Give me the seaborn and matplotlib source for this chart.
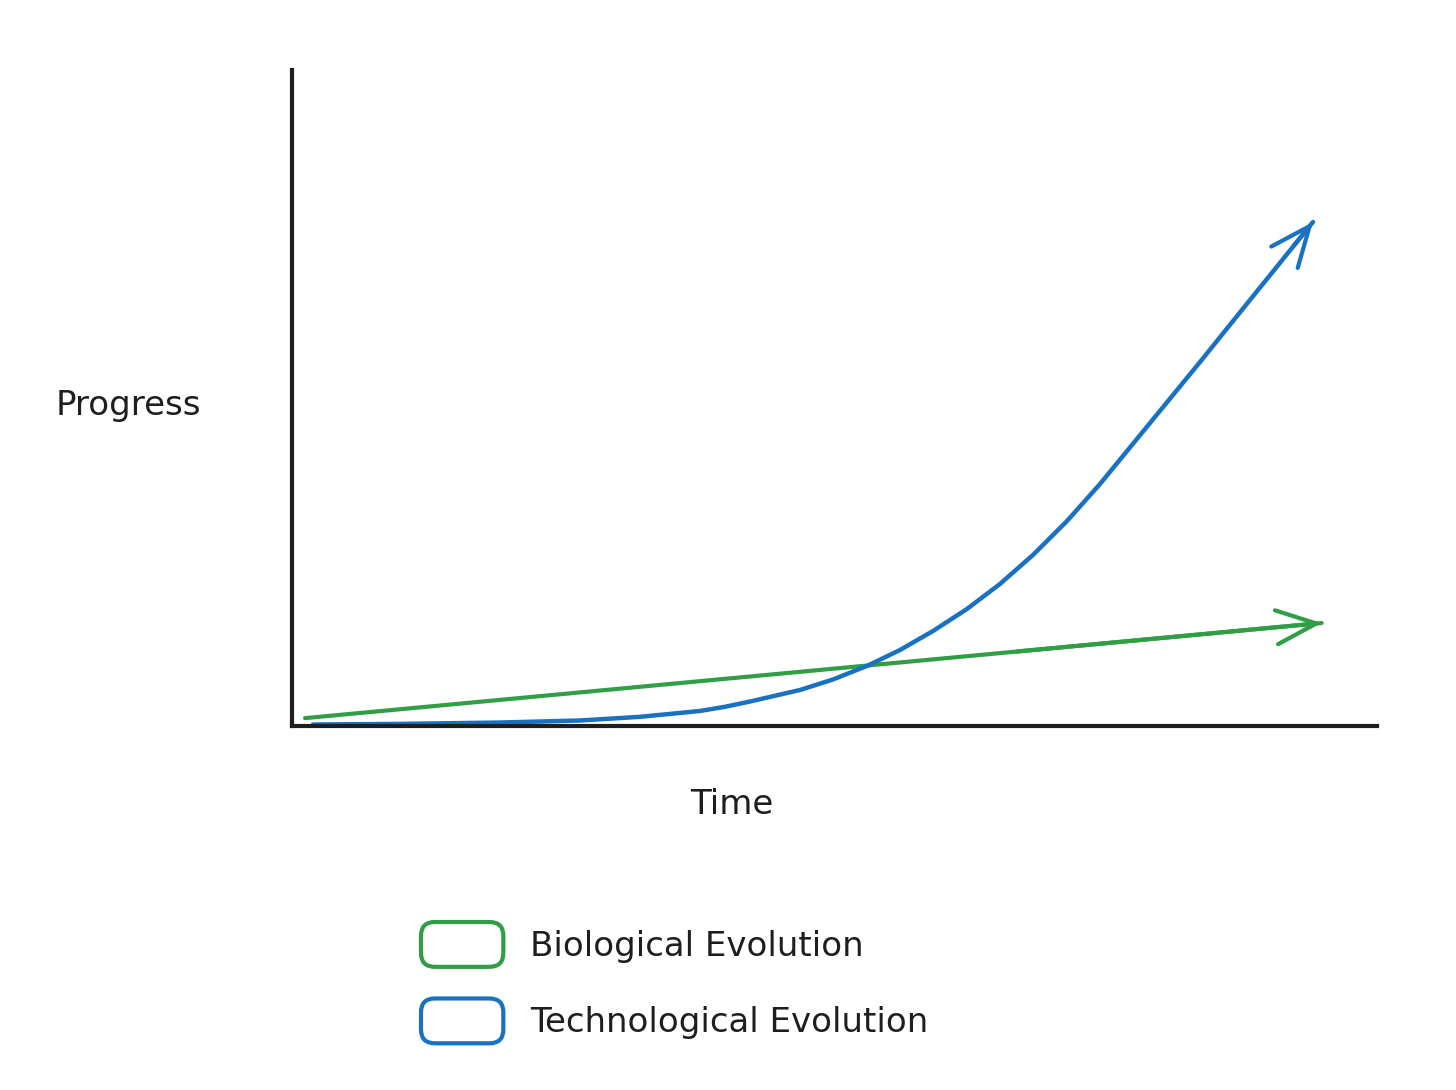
import matplotlib
matplotlib.use("Agg")
import matplotlib.pyplot as plt
import seaborn as sns
import pandas as pd
from matplotlib.patches import Patch, FancyBboxPatch
from matplotlib.legend_handler import HandlerPatch

# ---- data (abstract units) ----
bio_time = [1.2, 94.9]
bio_progress = [1.2, 15.7]

tech_time = [1.94, 9.95, 19.17, 26.54, 32.07, 37.60, 39.91, 42.21, 46.82,
             49.86, 52.99, 56.04, 59.08, 62.21, 65.25, 68.29, 71.43, 74.47,
             79.08, 83.69, 88.29, 94.10]
tech_progress = [0.23, 0.32, 0.53, 0.84, 1.40, 2.29, 2.93, 3.73, 5.49,
                 7.09, 9.15, 11.59, 14.48, 17.84, 21.65, 26.07, 31.25, 36.89,
                 46.19, 55.49, 64.94, 76.83]

series_names = ["Biological Evolution", "Technological Evolution"]
x_label = "Time"
y_label = "Progress"

GREEN = "#2f9e44"
BLUE = "#1971c2"
INK = "#1e1e1e"

sns.set_theme(style="white")
plt.rcParams["font.family"] = ["DejaVu Sans"]

fig = plt.figure(figsize=(14.56, 10.90), dpi=100)
ax = fig.add_axes([292 / 1456, 1 - 726 / 1090, 1085 / 1456, 656 / 1090])

bio = pd.DataFrame({"t": bio_time, "p": bio_progress})
tech = pd.DataFrame({"t": tech_time, "p": tech_progress})

sns.lineplot(data=bio, x="t", y="p", ax=ax, color=GREEN, lw=3, sort=False,
             solid_capstyle="round", solid_joinstyle="round")
sns.lineplot(data=tech, x="t", y="p", ax=ax, color=BLUE, lw=3.2, sort=False,
             solid_capstyle="round", solid_joinstyle="round")

# open arrowheads at the ends of both series
for df, col in ((bio, GREEN), (tech, BLUE)):
    x1, y1 = df["t"].iloc[-1], df["p"].iloc[-1]
    x0, y0 = df["t"].iloc[-2], df["p"].iloc[-2]
    xs = x1 - (x1 - x0) * 0.3
    ys = y1 - (y1 - y0) * 0.3
    ax.annotate("", xy=(x1, y1), xytext=(xs, ys),
                arrowprops=dict(arrowstyle="->,head_length=0.4,head_width=0.17",
                                color=col, lw=3, mutation_scale=72,
                                shrinkA=0, shrinkB=0))

ax.set_xlim(0, 100)
ax.set_ylim(0, 100)
ax.set_xticks([])
ax.set_yticks([])
for side in ("top", "right"):
    ax.spines[side].set_visible(False)
for side in ("left", "bottom"):
    ax.spines[side].set_color(INK)
    ax.spines[side].set_linewidth(3)

ax.set_xlabel(x_label, fontsize=24.5, color=INK, va="center", ha="center")
ax.set_ylabel(y_label, fontsize=24.5, color=INK, rotation=0, ha="center", va="center")
ax.xaxis.set_label_coords(0.4055, -0.120)
ax.yaxis.set_label_coords(-0.151, 0.489)


class RoundBoxHandler(HandlerPatch):
    def create_artists(self, legend, orig_handle, xdescent, ydescent,
                       width, height, fontsize, trans):
        p = FancyBboxPatch((-xdescent, -ydescent), width, height,
                           boxstyle="round,pad=0,rounding_size=10",
                           facecolor="none",
                           edgecolor=orig_handle.get_edgecolor(), lw=3)
        p.set_transform(trans)
        return [p]


handles = [Patch(facecolor="none", edgecolor=GREEN, label=series_names[0]),
           Patch(facecolor="none", edgecolor=BLUE, label=series_names[1])]
fig.legend(handles=handles, loc="upper left",
           bbox_to_anchor=(421 / 1456, 1 - 922 / 1090),
           frameon=False, fontsize=24.5, borderpad=0, borderaxespad=0,
           handlelength=2.42, handleheight=1.65, handletextpad=0.78,
           labelspacing=0.93, labelcolor=INK,
           handler_map={Patch: RoundBoxHandler()})

fig.savefig("out.png", dpi=100, facecolor="white")
